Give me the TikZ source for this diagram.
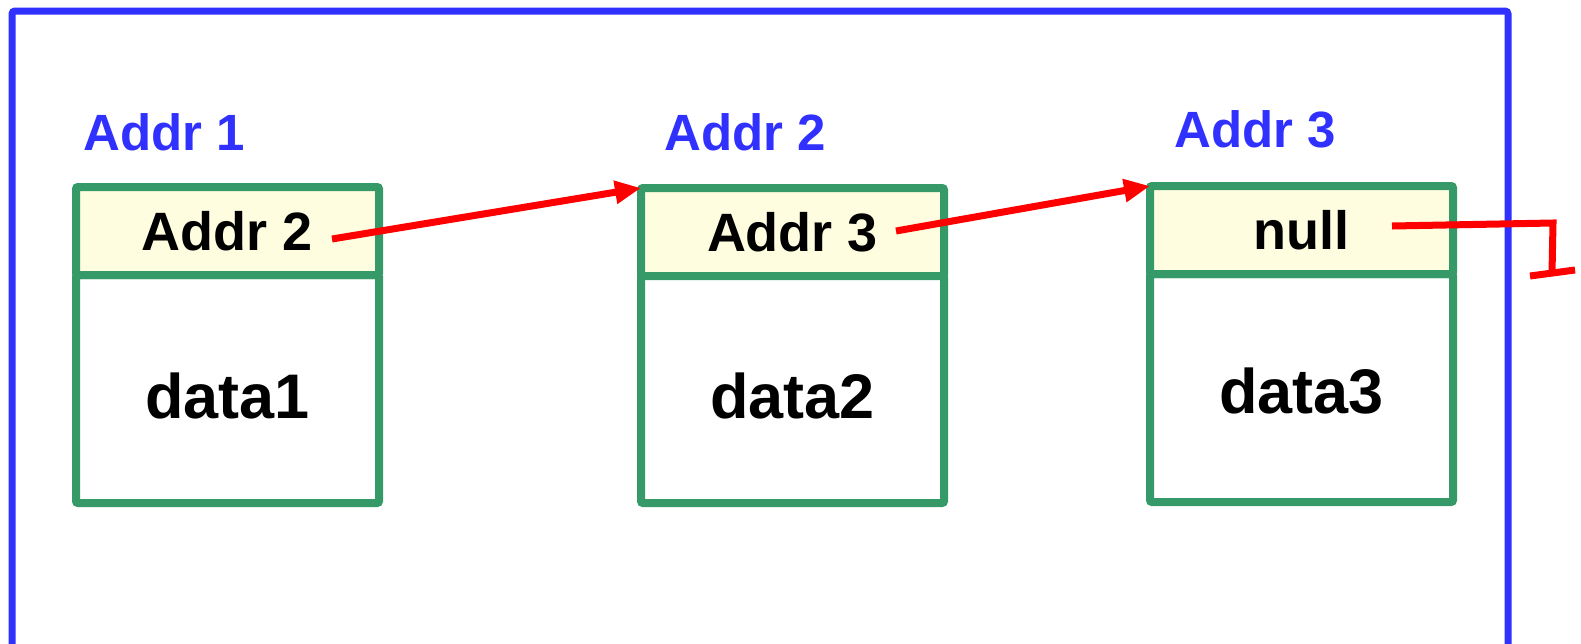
\documentclass[tikz,border=0pt]{standalone}
\usepackage{fontspec}
\setmainfont{Liberation Sans}
\usetikzlibrary{arrows.meta}
\definecolor{frameblue}{RGB}{48,48,255}
\definecolor{cellgreen}{RGB}{54,153,104}
\definecolor{hdrfill}{RGB}{255,253,224}
\definecolor{linkred}{RGB}{255,0,0}
\tikzset{
  hdr/.style={draw=cellgreen, fill=hdrfill, line width=8pt, rounded corners=2pt,
    minimum width=303pt, minimum height=88pt, outer sep=0pt, inner sep=0pt,
    anchor=north west, font=\bfseries\fontsize{54}{64}\selectfont},
  body/.style={draw=cellgreen, line width=8pt, rounded corners=2pt,
    minimum width=303pt, minimum height=228pt, outer sep=0pt, inner sep=0pt,
    anchor=north west},
  datatxt/.style={inner sep=0pt, font=\bfseries\fontsize{63}{75}\selectfont},
  addr/.style={text=frameblue, font=\bfseries\fontsize{51}{61}\selectfont, inner sep=0pt},
  link/.style={draw=linkred, line width=7pt, -{Triangle[length=26pt,width=22pt]}},
  nulllink/.style={draw=linkred, line width=7pt, line join=miter},
}
\begin{document}
\begin{tikzpicture}[x=1pt,y=-1pt]
\useasboundingbox (0,0) rectangle (1581,643);
\clip (0,0) rectangle (1581,643);
% outer frame
\draw[frameblue, line width=7pt, rounded corners=3pt] (12,11) rectangle (1508,648);

% address labels
\node[addr] (a1) at (164,132) {Addr 1};
\node[addr] (a2) at (745,132) {Addr 2};
\node[addr] (a3) at (1255,129) {Addr 3};

% list cells: data field below, pointer field on top
\node[body] (d1) at (76,275) {};
\node[hdr]  (h1) at (76,187) {Addr 2};
\node[body] (d2) at (641,275) {};
\node[hdr]  (h2) at (641,188) {Addr 3};
\node[body] (d3) at (1150,274) {};
\node[hdr]  (h3) at (1150,186) {null};
\node[datatxt] (x1) at ([yshift=-7pt]d1.center) {data1};
\node[datatxt] (x2) at ([yshift=-7pt]d2.center) {data2};
\node[datatxt] (x3) at ([yshift=-3pt]d3.center) {data3};

% pointer links
\coordinate (p1) at (332,239);
\coordinate (p2) at (896,231);
\coordinate (p3) at (1392,226);
\coordinate (g0) at (1553,223);
\coordinate (g1) at (1552,273);
\coordinate (gl) at (1530,276);
\coordinate (gr) at (1575,270);
\draw[link] (p1) -- (h2.north west);
\draw[link] (p2) -- (h3.north west);
\draw[nulllink] (p3) -- (g0) -- (g1);
\draw[nulllink] (gl) -- (gr);
\end{tikzpicture}
\end{document}
